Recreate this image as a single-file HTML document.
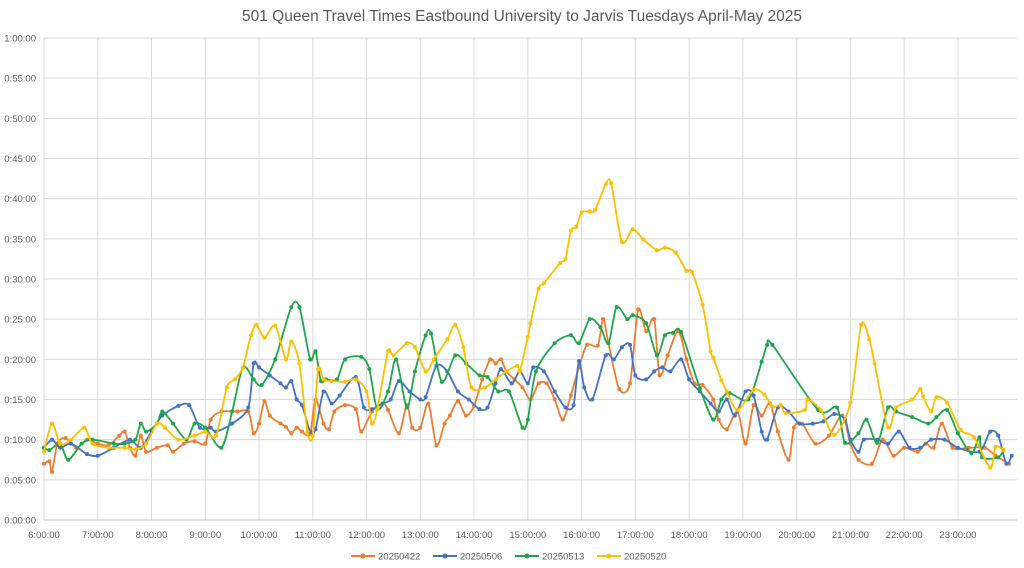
<!DOCTYPE html>
<html><head><meta charset="utf-8">
<style>
html,body{margin:0;padding:0;background:#fff;}
svg{display:block;font-family:"Liberation Sans",sans-serif;}
</style></head>
<body>
<svg id="chart" width="1024" height="568" viewBox="0 0 1024 568">
<text x="522" y="21" text-anchor="middle" font-size="15.5" fill="#595959">501 Queen Travel Times Eastbound University to Jarvis Tuesdays April-May 2025</text>
<g id="grid"></g><g id="series"></g><g id="axes"></g><g id="legend"></g>
</svg>
<script>
const seriesNames = ["20250422","20250506","20250513","20250520"];
const seriesColors = ["#ED7D31","#4472C4","#1FA64A","#FFC000"];
const yTickLabels = ["0:00:00","0:05:00","0:10:00","0:15:00","0:20:00","0:25:00","0:30:00","0:35:00","0:40:00","0:45:00","0:50:00","0:55:00","1:00:00"];
const xTickLabels = ["6:00:00","7:00:00","8:00:00","9:00:00","10:00:00","11:00:00","12:00:00","13:00:00","14:00:00","15:00:00","16:00:00","17:00:00","18:00:00","19:00:00","20:00:00","21:00:00","22:00:00","23:00:00"];
// [hour of day, travel minutes]
const s0422 = [[6.0,7],[6.1,7.3],[6.15,6],[6.25,9.5],[6.4,10.2],[6.6,9],[6.8,10],[7.0,9.5],[7.2,9.3],[7.4,10.5],[7.5,11],[7.6,9],[7.7,8],[7.8,10.5],[7.9,8.5],[8.1,9],[8.3,9.3],[8.4,8.5],[8.6,9.5],[8.8,9.8],[9.0,9.5],[9.1,12.5],[9.3,13.5],[9.6,13.5],[9.8,13.5],[9.9,10.8],[10.0,12],[10.1,14.8],[10.2,13],[10.4,12],[10.5,11.6],[10.6,10.8],[10.7,11.5],[10.8,11],[10.95,10.7],[11.05,15],[11.2,12],[11.3,11.3],[11.4,13.5],[11.6,14.3],[11.8,13.8],[11.9,11],[12.1,13.5],[12.3,14.5],[12.4,13.7],[12.6,10.8],[12.75,14.3],[12.85,11.5],[13.0,11.5],[13.15,14.5],[13.3,9.3],[13.45,12],[13.55,13],[13.7,14.8],[13.85,13],[14.0,14.2],[14.15,17.5],[14.3,20],[14.4,19.5],[14.5,20],[14.6,18.5],[14.75,17.5],[14.9,16.5],[15.05,15],[15.2,17],[15.35,17],[15.5,15],[15.65,12.5],[15.8,15.5],[15.95,19],[16.1,21.8],[16.3,21.7],[16.4,25],[16.5,22],[16.7,16.3],[16.9,17],[17.05,26.2],[17.2,23.5],[17.35,25],[17.45,18],[17.6,20.5],[17.8,23.5],[17.95,20],[18.1,17],[18.25,16.8],[18.45,15],[18.55,12.5],[18.7,11.3],[18.9,13.5],[19.05,9.5],[19.2,14.3],[19.35,13],[19.5,14.5],[19.65,11],[19.85,7.5],[19.95,11.5],[20.1,12],[20.35,9.5],[20.6,10.5],[20.85,13],[21.0,9.5],[21.15,7.5],[21.4,7],[21.6,10],[21.8,8],[22.0,9],[22.25,8.5],[22.4,9.5],[22.55,9],[22.7,12],[22.9,9],[23.2,9],[23.5,9],[23.7,8],[23.95,7]];
const s0506 = [[6.0,9],[6.15,10],[6.3,9],[6.5,9.5],[6.8,8.2],[7.0,8],[7.3,9],[7.6,10],[7.8,9],[8.0,11],[8.2,13],[8.5,14.2],[8.7,14.3],[8.9,11.5],[9.1,11.5],[9.2,11],[9.5,12],[9.8,14],[9.9,19.5],[10.0,19],[10.2,18],[10.4,17],[10.5,16.5],[10.6,17.3],[10.7,15],[10.8,14.3],[10.95,11],[11.05,11.3],[11.2,16],[11.35,14.5],[11.5,15.5],[11.8,17.8],[11.95,14],[12.1,13.8],[12.3,14.5],[12.45,15],[12.6,17.3],[12.8,16],[13.0,15],[13.1,15.3],[13.3,19.2],[13.5,18.5],[13.7,16],[13.9,15],[14.1,13.8],[14.25,14],[14.4,17],[14.5,18.8],[14.7,17],[14.85,18.5],[15.0,17],[15.1,19],[15.3,18.5],[15.5,16],[15.7,14],[15.85,14.3],[15.95,19.8],[16.05,16.5],[16.2,15],[16.45,20.5],[16.6,20],[16.75,21.5],[16.9,21.8],[17.0,18],[17.2,17.5],[17.35,18.5],[17.5,19],[17.65,18.5],[17.85,20],[18.0,17.5],[18.2,16],[18.4,14.5],[18.55,13.5],[18.7,15],[18.85,13],[19.05,16],[19.2,15.5],[19.35,11],[19.45,10],[19.65,14],[19.85,13.5],[20.05,12],[20.3,12],[20.5,12.3],[20.7,13.2],[20.9,12.5],[21.0,10],[21.15,8.5],[21.25,10],[21.5,10],[21.7,9.5],[21.9,11],[22.1,9],[22.3,9],[22.5,10],[22.75,10],[23.0,9],[23.4,8.5],[23.6,11],[23.75,10.5],[23.9,7],[24.0,8]];
const s0513 = [[6.0,9],[6.1,8.7],[6.3,9.5],[6.45,7.5],[6.7,9.5],[6.9,10],[7.3,9.5],[7.5,9.5],[7.7,10],[7.8,12],[7.9,11],[8.1,12],[8.2,13.5],[8.4,12],[8.65,10],[8.8,12],[9.0,11.5],[9.3,9],[9.5,13.5],[9.7,19],[9.9,17.5],[10.05,16.8],[10.3,20],[10.6,26.5],[10.75,26.5],[10.95,20],[11.05,21],[11.15,17.3],[11.25,17.5],[11.45,17.5],[11.6,20],[11.9,20.3],[12.05,18.8],[12.2,13.8],[12.4,16],[12.55,20],[12.75,14],[12.9,18.5],[13.1,23],[13.2,23.2],[13.4,17.2],[13.65,20.5],[13.85,19.5],[14.1,18],[14.25,17.8],[14.45,16],[14.65,16],[14.9,11.5],[15.0,12.5],[15.15,18.5],[15.5,22],[15.8,23],[15.95,22],[16.15,25],[16.35,24],[16.5,22],[16.65,26.5],[16.85,25],[16.95,25.5],[17.2,24.5],[17.4,20.5],[17.55,23],[17.7,23.3],[17.85,23.4],[18.2,16.4],[18.45,12.5],[18.6,15],[18.75,15.8],[19.1,15],[19.35,19.7],[19.45,21.8],[19.55,21.8],[20.4,13.7],[20.75,14],[20.9,9.6],[21.15,10.8],[21.3,12.5],[21.5,9.6],[21.7,14],[21.85,13.5],[22.15,12.8],[22.45,12],[22.6,12.8],[22.8,13.7],[23.0,10.8],[23.25,8.3],[23.4,10.3],[23.45,7.8],[23.75,7.8],[23.85,8.7]];
const s0520 = [[6.0,8.5],[6.15,12],[6.3,9.5],[6.5,10],[6.75,11.5],[6.9,9.5],[7.2,9],[7.5,9],[7.7,8.8],[7.9,9.5],[8.1,12],[8.25,11.5],[8.5,10],[8.8,10.5],[9.0,11],[9.2,10.5],[9.4,16.5],[9.55,17.5],[9.7,19],[9.85,23],[9.95,24.3],[10.1,22.7],[10.3,24.2],[10.5,20],[10.6,22.2],[10.75,19.5],[10.9,11],[11.0,10.5],[11.1,18.8],[11.2,17.5],[11.35,17.3],[11.6,17.2],[11.8,17.5],[12.0,16],[12.1,12],[12.2,13.8],[12.4,21],[12.5,20.5],[12.75,22],[12.9,21.5],[13.1,18.5],[13.25,20],[13.5,22.5],[13.65,24.3],[13.8,21.5],[13.95,16.5],[14.2,16.5],[14.4,17.5],[14.6,18.5],[14.8,19.2],[14.85,18.5],[15.0,22.8],[15.05,24.5],[15.2,28.8],[15.3,29.5],[15.6,32],[15.7,32.5],[15.8,36],[15.9,36.5],[16.0,38.3],[16.15,38.4],[16.25,38.6],[16.45,41.8],[16.55,41.9],[16.75,34.6],[16.95,36.2],[17.15,34.9],[17.4,33.6],[17.55,33.9],[17.75,33.3],[17.95,31],[18.05,30.9],[18.25,26.8],[18.4,21],[18.45,20.2],[18.6,17.4],[18.7,16],[18.9,13.7],[19.2,16.2],[19.4,15.6],[19.55,14.1],[19.7,14.3],[19.8,13.3],[20.15,13.7],[20.2,15],[20.45,13.7],[20.7,10.6],[21.0,14.6],[21.2,24.3],[21.35,22.5],[21.45,19.5],[21.7,11.5],[21.85,14],[22.15,15],[22.3,16.3],[22.35,15.4],[22.5,13.5],[22.6,15.3],[22.8,14.6],[23.05,11.2],[23.3,10.3],[23.6,6.5],[23.7,9.1],[23.85,8.7]];
const allSeries = [s0422,s0506,s0513,s0520];

const NS="http://www.w3.org/2000/svg";
const L=44,R=1017,T=38,B=520;
const xS=h=>L+(h-6)*53.76;
const yS=m=>B-(m/60)*(B-T);
function mk(tag,attrs,parent){const e=document.createElementNS(NS,tag);for(const k in attrs)e.setAttribute(k,attrs[k]);parent.appendChild(e);return e;}
const grid=document.getElementById('grid'),axes=document.getElementById('axes'),ser=document.getElementById('series'),leg=document.getElementById('legend');
yTickLabels.forEach((lab,i)=>{
  const y=yS(i*5);
  const gl=mk('line',{x1:L,x2:R,y1:y,y2:y,stroke:'#d9d9d9','stroke-width':1},grid);
  
  
  const t=mk('text',{x:36,y:y+3.5,'text-anchor':'end','font-size':9.5,fill:'#595959'},axes);
  t.textContent=lab;
  
  
});
xTickLabels.forEach((lab,i)=>{
  const x=xS(6+i);
  const gl=mk('line',{x1:x,x2:x,y1:T,y2:B,stroke:'#d9d9d9','stroke-width':1},grid);
  
  
  const t=mk('text',{x:x,y:538,'text-anchor':'middle','font-size':9.5,fill:'#595959'},axes);
  t.textContent=lab;
  
  
});
const ax=mk('line',{x1:L,x2:R,y1:B,y2:B,stroke:'#bfbfbf','stroke-width':1},axes);


function smooth(pts){
  let d=`M${pts[0][0]},${pts[0][1]}`;
  const k=7;
  for(let i=0;i<pts.length-1;i++){
    const p0=pts[i-1]||pts[i],p1=pts[i],p2=pts[i+1],p3=pts[i+2]||p2;
    const c1=[p1[0]+(p2[0]-p0[0])/k,p1[1]+(p2[1]-p0[1])/k];
    const c2=[p2[0]-(p3[0]-p1[0])/k,p2[1]-(p3[1]-p1[1])/k];
    d+=`C${c1[0]},${c1[1]} ${c2[0]},${c2[1]} ${p2[0]},${p2[1]}`;
  }
  return d;
}
allSeries.forEach((s,si)=>{
  const g=mk('g',{},ser);
  
  
  const pts=s.map(p=>[xS(p[0]),yS(p[1])]);
  const path=mk('path',{d:smooth(pts),fill:'none',stroke:seriesColors[si],'stroke-width':1.8,'stroke-linejoin':'round'},g);
  
  
  pts.forEach(p=>{
    const c=mk('circle',{cx:p[0],cy:p[1],r:2,fill:seriesColors[si]},g);
    
    
  });
});
const legX=[351,433,515,597];
seriesNames.forEach((n,i)=>{
  const g=mk('g',{},leg);
  
  
  mk('line',{x1:legX[i],x2:legX[i]+24,y1:556,y2:556,stroke:seriesColors[i],'stroke-width':2},g);
  mk('circle',{cx:legX[i]+12,cy:556,r:2.5,fill:seriesColors[i]},g);
  const t=mk('text',{x:legX[i]+27,y:559.5,'font-size':9.5,fill:'#595959'},g);
  t.textContent=n;
});
</script>
</body></html>
